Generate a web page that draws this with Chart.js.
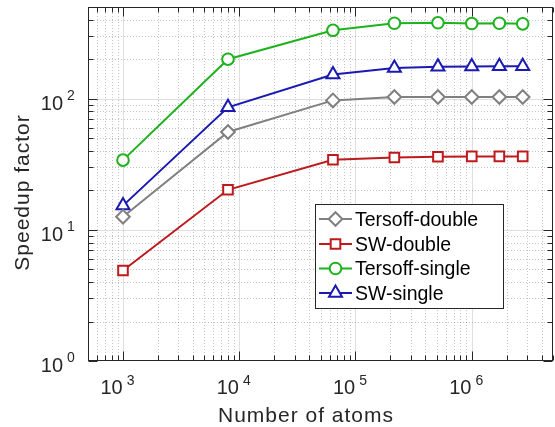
<!DOCTYPE html>
<html><head><meta charset="utf-8">
<script src="https://cdn.jsdelivr.net/npm/chart.js@4/dist/chart.umd.min.js"></script>
<style>html,body{margin:0;padding:0;background:#fff;overflow:hidden}</style>
</head><body>
<canvas id="c" width="555" height="427"></canvas>
<script>
// ---- data ----
const atoms = [1000, 8000, 64000, 216000, 512000, 1000000, 1728000, 2744000];
const tersoffDouble = [12.6, 55.7, 97, 103, 103, 103, 103, 103];
const swDouble = [4.9, 20.2, 34.2, 35.6, 36.1, 36.3, 36.3, 36.3];
const tersoffSingle = [34, 200, 332, 376, 379, 374, 376, 372];
const swSingle = [15.3, 86, 153, 171, 175, 176, 177, 177];
const seriesNames = ['Tersoff-double', 'SW-double', 'Tersoff-single', 'SW-single'];
const xTickExponents = [3, 4, 5, 6];
const yTickExponents = [0, 1, 2];
const xTitle = 'Number of atoms';
const yTitle = 'Speedup factor';

// ---- styles ----
const FONT = '"Liberation Sans", Arial, Helvetica, sans-serif';
const AX = '#262626';
const styles = [
  {color: 'rgb(128,128,128)', point: 'rectRot', r: 6.8},
  {color: 'rgb(190,26,30)', point: 'rect', r: 6.8},
  {color: 'rgb(30,178,30)', point: 'circle', r: 5.8},
  {color: 'rgb(26,26,178)', point: 'triangle', r: 7.5}
];
const seriesValues = [tersoffDouble, swDouble, tersoffSingle, swSingle];

const datasets = seriesValues.map((vals, i) => ({
  label: seriesNames[i],
  data: atoms.map((a, j) => ({x: a, y: vals[j]})),
  borderColor: styles[i].color,
  backgroundColor: '#ffffff',
  pointBackgroundColor: '#ffffff',
  pointBorderColor: styles[i].color,
  pointStyle: styles[i].point,
  pointRadius: styles[i].r,
  pointBorderWidth: 2,
  borderWidth: 2,
  tension: 0,
  fill: false
}));

function logVals(min, max) {
  const out = [];
  for (let e = Math.floor(Math.log10(min)); e <= Math.ceil(Math.log10(max)); e++) {
    for (let k = 1; k < 10; k++) {
      const v = k * Math.pow(10, e);
      if (v >= min * 0.9999 && v <= max * 1.0001) out.push({v, major: k === 1});
    }
  }
  return out;
}

function drawMarker(ctx, style, x, y, r) {
  if (Chart.helpers && Chart.helpers.drawPoint) {
    Chart.helpers.drawPoint(ctx, {pointStyle: style, radius: r, rotation: 0, borderWidth: 2}, x, y);
  }
}

const gridPlugin = {
  id: 'grid',
  beforeDatasetsDraw(chart) {
    const {ctx, chartArea: a, scales: {x, y}} = chart;
    ctx.save();
    ctx.lineWidth = 1;
    for (const t of logVals(x.min, x.max)) {
      const px = Math.round(x.getPixelForValue(t.v)) + 0.5;
      if (px <= a.left + 1 || px >= a.right - 1) continue;
      ctx.strokeStyle = t.major ? 'rgba(38,38,38,0.15)' : 'rgba(38,38,38,0.27)';
      ctx.setLineDash(t.major ? [] : [1, 2]);
      ctx.beginPath(); ctx.moveTo(px, a.top); ctx.lineTo(px, a.bottom); ctx.stroke();
    }
    for (const t of logVals(y.min, y.max)) {
      const py = Math.round(y.getPixelForValue(t.v)) + 0.5;
      if (py <= a.top + 1 || py >= a.bottom - 1) continue;
      ctx.strokeStyle = t.major ? 'rgba(38,38,38,0.15)' : 'rgba(38,38,38,0.27)';
      ctx.setLineDash(t.major ? [] : [1, 2]);
      ctx.beginPath(); ctx.moveTo(a.left, py); ctx.lineTo(a.right, py); ctx.stroke();
    }
    ctx.restore();
  },
  afterDatasetsDraw(chart) {
    const {ctx, chartArea: a, scales: {x, y}} = chart;
    ctx.save();
    ctx.setLineDash([]);
    ctx.strokeStyle = AX;
    ctx.lineWidth = 1;
    const L = Math.round(a.left) + 0.5, R = Math.round(a.right) - 0.5;
    const T = Math.round(a.top) + 0.5, B = Math.round(a.bottom) - 0.5;
    ctx.beginPath();
    for (const t of logVals(x.min, x.max)) {
      const px = Math.round(x.getPixelForValue(t.v)) + 0.5;
      const len = t.major ? 9 : 5;
      ctx.moveTo(px, B); ctx.lineTo(px, B - len);
      ctx.moveTo(px, T); ctx.lineTo(px, T + len);
    }
    for (const t of logVals(y.min, y.max)) {
      const py = Math.round(y.getPixelForValue(t.v)) + 0.5;
      const len = t.major ? 9 : 5;
      ctx.moveTo(L, py); ctx.lineTo(L + len, py);
      ctx.moveTo(R, py); ctx.lineTo(R - len, py);
    }
    ctx.stroke();
    ctx.strokeRect(L, T, R - L, B - T);

    // tick labels
    ctx.fillStyle = AX;
    ctx.textBaseline = 'alphabetic';
    for (const e of xTickExponents) {
      const px = x.getPixelForValue(Math.pow(10, e));
      ctx.font = '20px ' + FONT;
      ctx.textAlign = 'left';
      const sx = px - 22.5;
      ctx.fillText('10', sx, 394);
      const w = ctx.measureText('10').width;
      ctx.font = '14px ' + FONT;
      ctx.fillText(String(e), sx + w + 4, 385);
    }
    for (const e of yTickExponents) {
      const py = y.getPixelForValue(Math.pow(10, e));
      ctx.font = '20px ' + FONT;
      ctx.textAlign = 'right';
      ctx.fillText('10', 63, py + 11);
      ctx.font = '14px ' + FONT;
      ctx.textAlign = 'left';
      ctx.fillText(String(e), 67, py + 1);
    }
    // axis titles
    ctx.font = '21px ' + FONT;
    try { ctx.letterSpacing = '1px'; } catch (err) {}
    ctx.textAlign = 'center';
    ctx.fillText(xTitle, 306, 422);
    ctx.save();
    ctx.translate(29, 192.5);
    ctx.rotate(-Math.PI / 2);
    ctx.fillText(yTitle, 0, 0);
    ctx.restore();
    try { ctx.letterSpacing = '0px'; } catch (err) {}

    // legend
    const lx = 315.5, ly = 204.5, lw = 188, lh = 104;
    ctx.fillStyle = '#ffffff';
    ctx.fillRect(lx, ly, lw, lh);
    ctx.strokeStyle = AX;
    ctx.lineWidth = 1;
    ctx.strokeRect(lx, ly, lw, lh);
    const rows = [219, 244, 268.5, 293];
    chart.data.datasets.forEach((ds, i) => {
      const ry = rows[i];
      ctx.strokeStyle = ds.borderColor;
      ctx.lineWidth = 2;
      ctx.beginPath(); ctx.moveTo(319, ry); ctx.lineTo(352, ry); ctx.stroke();
      ctx.fillStyle = '#ffffff';
      ctx.strokeStyle = ds.borderColor;
      drawMarker(ctx, ds.pointStyle, 335.5, ry, ds.pointRadius);
      ctx.fillStyle = '#000000';
      ctx.font = '19.5px ' + FONT;
      ctx.textAlign = 'left';
      ctx.fillText(ds.label, 355, ry + 6.5);
    });
    ctx.restore();
  }
};

new Chart(document.getElementById('c'), {
  type: 'line',
  data: {datasets},
  options: {
    responsive: false,
    animation: false,
    devicePixelRatio: 1,
    layout: {autoPadding: false, padding: {left: 88, right: 2, top: 7, bottom: 66}},
    plugins: {legend: {display: false}, tooltip: {enabled: false}},
    scales: {
      x: {type: 'logarithmic', min: 500, max: 5000000, display: false},
      y: {type: 'logarithmic', min: 1, max: 500, display: false}
    }
  },
  plugins: [gridPlugin]
});
</script>
</body></html>
